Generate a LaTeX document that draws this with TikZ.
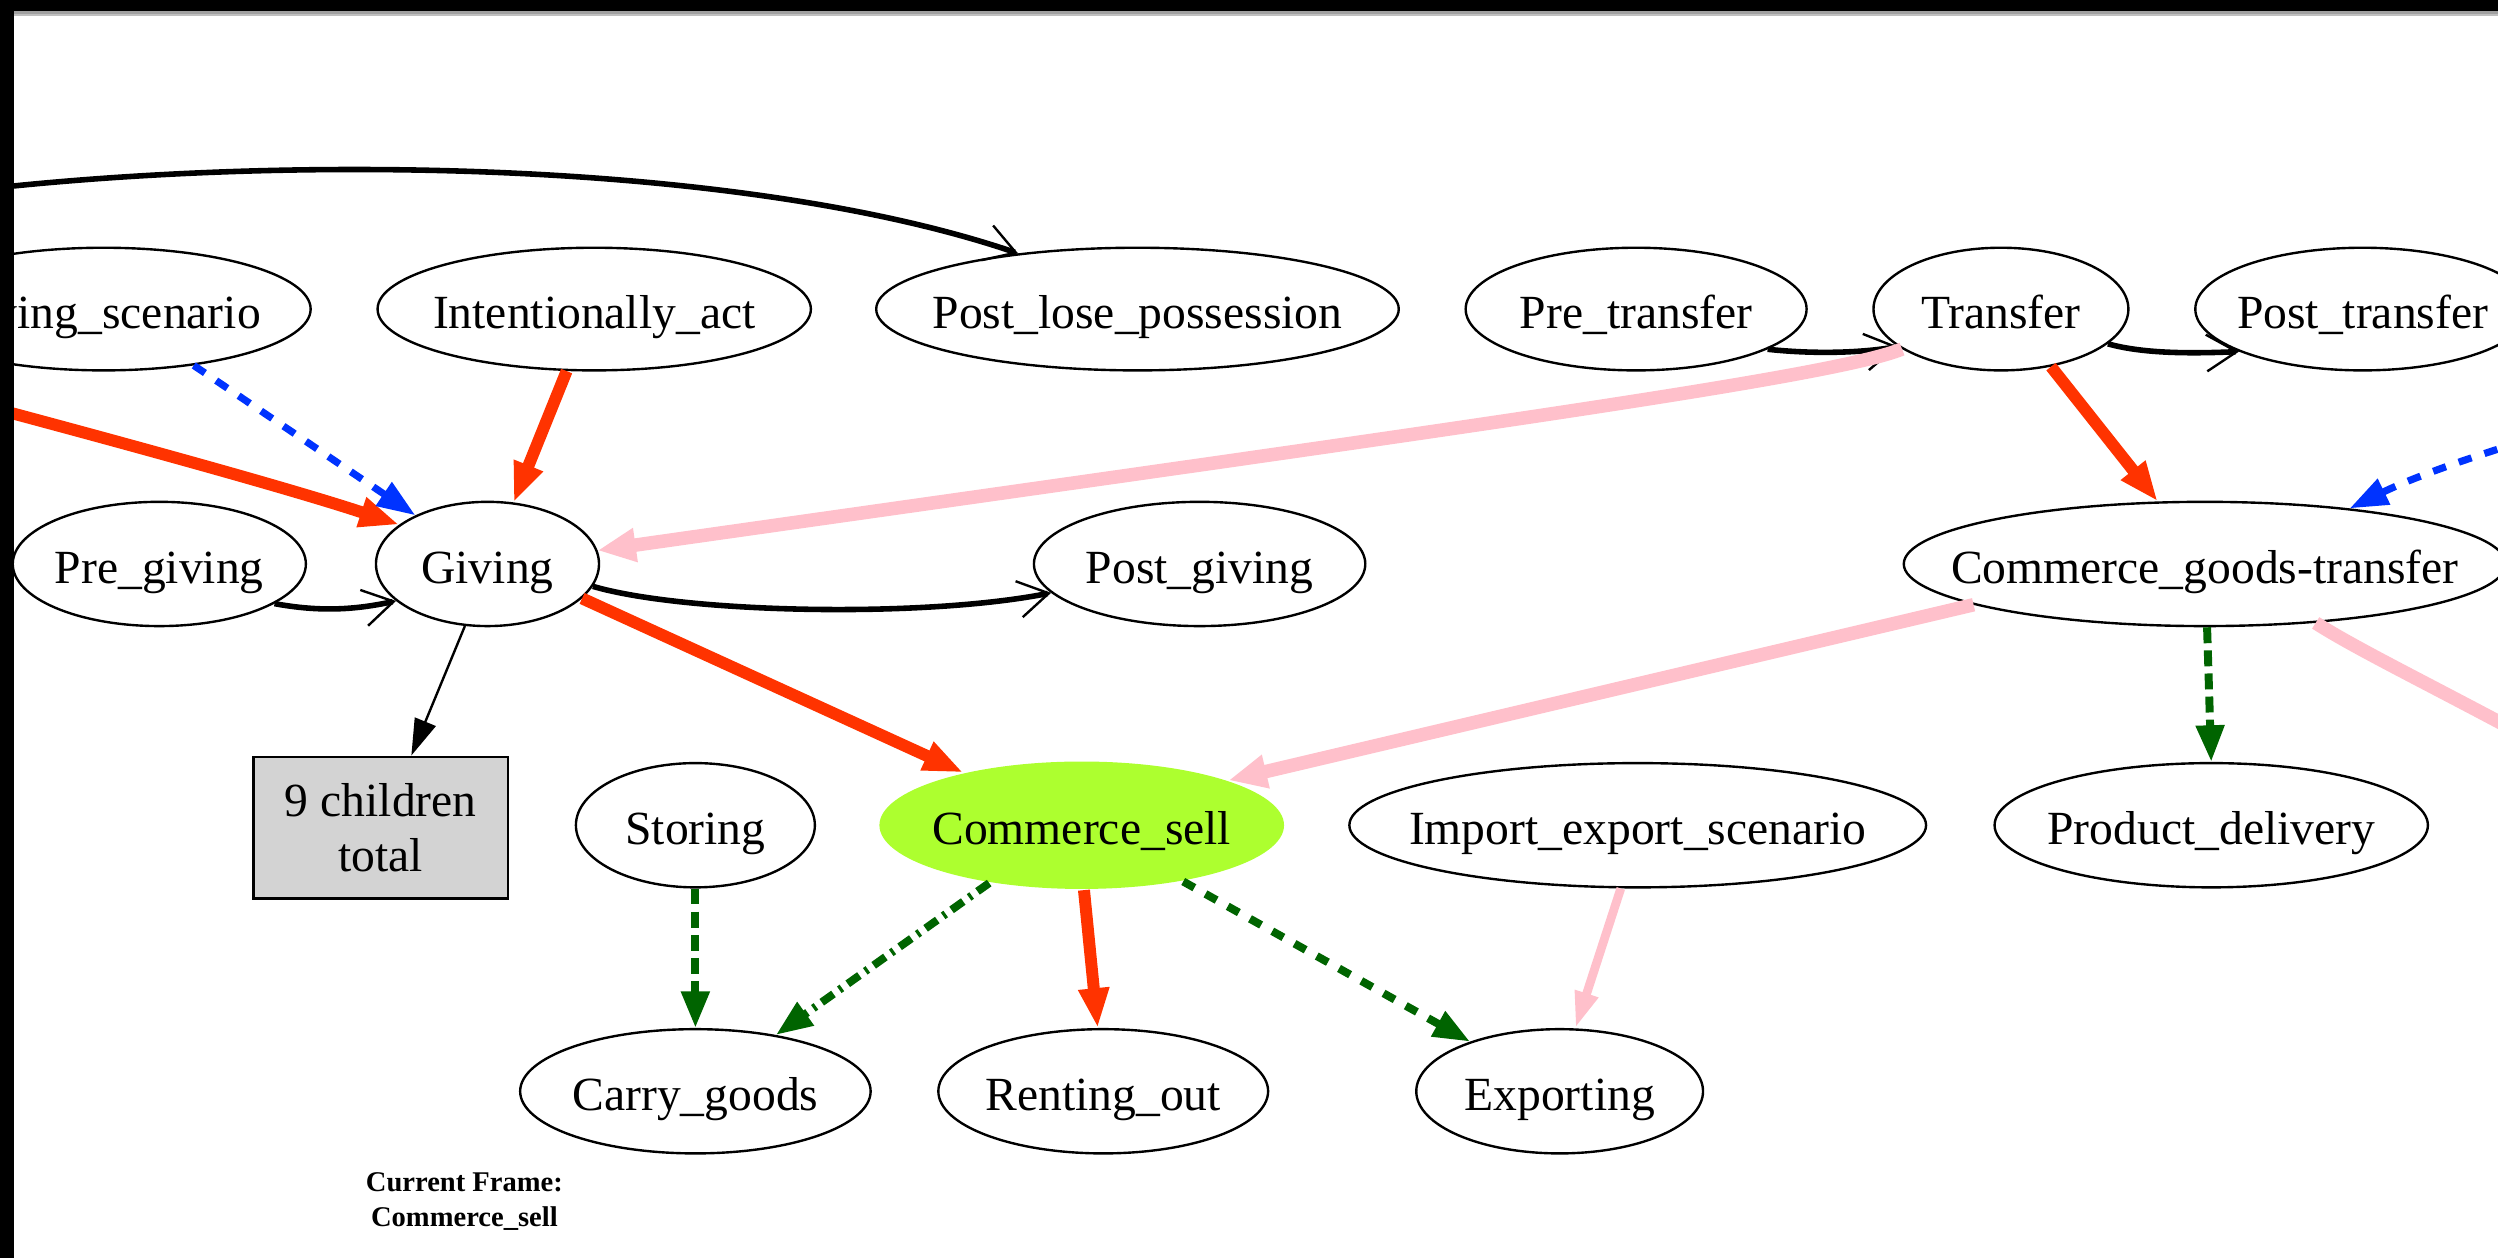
\documentclass[tikz,border=0pt]{standalone}
\usepackage{fontspec}
\setmainfont{Liberation Serif}
\usetikzlibrary{shapes.geometric,arrows.meta}
\definecolor{redE}{RGB}{255,51,0}
\definecolor{blueE}{RGB}{0,51,255}
\definecolor{greenE}{RGB}{0,100,0}
\definecolor{pinkE}{RGB}{255,192,203}
\definecolor{limeF}{RGB}{173,255,47}
\definecolor{boxgray}{RGB}{211,211,211}
\definecolor{stripgray}{RGB}{160,160,160}
\begin{document}
\begin{tikzpicture}[x=0.1mm,y=-0.1mm,
  ell/.style={ellipse,draw=black,line width=0.15mm,inner xsep=-8mm,inner ysep=0pt,
    font=\fontsize{8.5}{9.8}\selectfont,text height=3mm,text depth=0.6mm},
  childbox/.style={rectangle,draw=black,line width=0.15mm,fill=boxgray,inner sep=0pt,
    minimum width=16mm,minimum height=8.9mm,align=center,font=\fontsize{8.5}{9.8}\selectfont},
  lbl/.style={inner sep=0pt,font=\bfseries\fontsize{5.1}{6}\selectfont},
  blk/.style={draw=black,line width=0.35mm,-{Straight Barb[length=1.9mm,width=2.3mm,line width=0.15mm]}},
  thinA/.style={draw=black,line width=0.15mm,-{Triangle[length=2.3mm,width=1.4mm]}},
  redA/.style={draw=redE,line width=0.75mm,-{Triangle[length=2.5mm,width=1.8mm]}},
  bluA/.style={draw=blueE,line width=0.45mm,dash pattern=on 0.85mm off 0.85mm,-{Triangle[length=2.4mm,width=1.7mm]}},
  pinkA/.style={draw=pinkE,line width=0.85mm,-{Triangle[length=2.4mm,width=2mm]}},
  pinkB/.style={draw=pinkE,line width=0.55mm,-{Triangle[length=2.3mm,width=1.4mm]}},
  grnA/.style={draw=greenE,line width=0.5mm,-{Triangle[length=2.3mm,width=1.7mm]}},
  grndash/.style={grnA,dash pattern=on 1mm off 0.45mm},
  grndashdot/.style={grnA,dash pattern=on 0.9mm off 0.45mm on 0.2mm off 0.45mm},
  grnshort/.style={grnA,dash pattern=on 0.8mm off 0.8mm}
]
\useasboundingbox (0,0) rectangle (1568,789.65);
\begin{scope}
\clip (0,0) rectangle (1568,789.65);

% nodes
\node[ell,minimum width=26mm,minimum height=7.7mm] (gs) at (65,194) {Giving\_scenario};
\node[ell,minimum width=27.2mm,minimum height=7.7mm] (ia) at (373,194) {Intentionally\_act};
\node[ell,minimum width=32.8mm,minimum height=7.7mm] (plp) at (714,194) {Post\_lose\_possession};
\node[ell,minimum width=21.4mm,minimum height=7.7mm] (pt) at (1027,194) {Pre\_transfer};
\node[ell,minimum width=16mm,minimum height=7.7mm] (tr) at (1256,194) {Transfer};
\node[ell,minimum width=21mm,minimum height=7.7mm] (pot) at (1483,194) {Post\_transfer};
\node[ell,minimum width=18.4mm,minimum height=7.8mm] (pg) at (100,354) {Pre\_giving};
\node[ell,minimum width=14mm,minimum height=7.8mm] (gv) at (306,354) {Giving};
\node[ell,minimum width=20.8mm,minimum height=7.8mm] (pog) at (753,354) {Post\_giving};
\node[ell,minimum width=37.8mm,minimum height=7.8mm] (cgt) at (1384,354) {Commerce\_goods-transfer};
\node[childbox] (ch) at (239,519.5) {9 children\\total};
\node[ell,minimum width=15mm,minimum height=7.8mm] (st) at (436.5,518) {Storing};
\node[ell,draw=none,fill=limeF,minimum width=25.4mm,minimum height=8mm] (cs) at (679,518) {Commerce\_sell};
\node[ell,minimum width=36.2mm,minimum height=7.8mm] (ies) at (1028,518) {Import\_export\_scenario};
\node[ell,minimum width=27.2mm,minimum height=7.8mm] (pd) at (1388,518) {Product\_delivery};
\node[ell,minimum width=22mm,minimum height=7.8mm] (cg) at (436.5,685) {Carry\_goods};
\node[ell,minimum width=20.7mm,minimum height=7.8mm] (ro) at (692.5,685) {Renting\_out};
\node[ell,minimum width=18mm,minimum height=7.8mm] (ex) at (979,685) {Exporting};

\node[lbl,anchor=base] (cf1) at (291.5,748) {Current Frame:};
\node[lbl,anchor=base] (cf2) at (291.5,770) {Commerce\_sell};

% off-picture ends
\coordinate (L1) at (-60,125);
\coordinate (L2) at (-20,252);
\coordinate (R1) at (1600,470);
\coordinate (R2) at (1600,272);

% black sequence edges
\draw[blk] (L1) .. controls (150,95) and (460,98) .. (plp.155);
\draw[blk] (pg.341) .. controls (200,384) and (222,383) .. (gv.202);
\draw[blk] (gv.348) .. controls (430,385) and (580,388) .. (pog.191);
\draw[blk] (pt.343) .. controls (1135,222) and (1165,222) .. (tr.200);
\draw[blk] (tr.342) .. controls (1345,222) and (1375,222) .. (pot.199);
\draw[thinA] (gv.250) -- (ch.67);

% red edges
\draw[redA] (L2) .. controls (70,276) and (180,306) .. (gv.156);
\draw[redA] (ia.246) -- (gv.67);
\draw[redA] (gv.340) -- (cs.156);
\draw[redA] (tr.311) -- (cgt.127);
\draw[redA] (cs.272) -- (ro.95);

% blue edges
\draw[bluA] (gs.328) -- (gv.146);
\draw[bluA] (R2) .. controls (1540,290) and (1510,302) .. (cgt.21);

% pink edges
\draw[pinkA] (tr.202) .. controls (1150,237) and (900,271) .. (gv.7);
\draw[pinkA] (cgt.190) -- (cs.17);
\draw[pinkA,-] (cgt.332) .. controls (1480,408) and (1530,432) .. (R1);
\draw[pinkB] (ies.255) -- (ex.76);

% green edges
\draw[grndash] (st.270) -- (cg.90);
\draw[grndashdot] (cs.212) -- (cg.35);
\draw[grnshort] (cs.331) -- (ex.151);
\draw[grndash] (cgt.272) -- (pd.90);
\end{scope}

% screen frame
\fill[black] (0,0) rectangle (1568,7);
\fill[stripgray] (9,7) rectangle (1568,9);
\fill[black!25] (9,9) rectangle (1568,10);
\fill[black] (0,0) rectangle (9,789.65);
\end{tikzpicture}
\end{document}
